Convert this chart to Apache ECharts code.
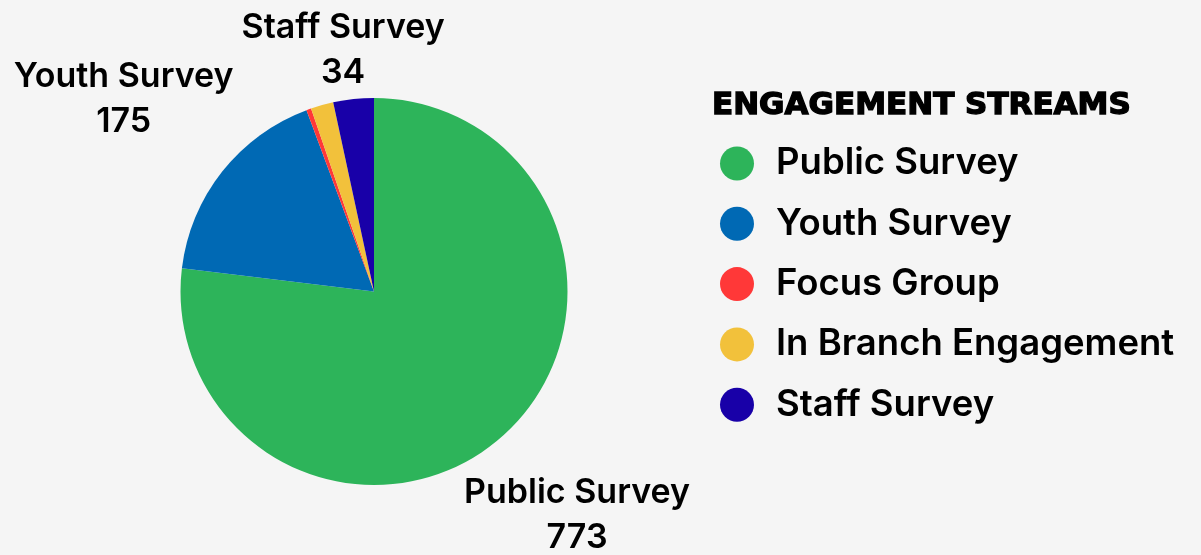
<!DOCTYPE html>
<html><head><meta charset="utf-8">
<script src="https://cdn.jsdelivr.net/npm/echarts@6/dist/echarts.min.js"></script>
<style>html,body{margin:0;padding:0;background:#f5f5f5}#c{width:1201px;height:555px}</style>
</head><body><div id="c"></div>
<script>
const categories = ['Public Survey', 'Youth Survey', 'Focus Group', 'In Branch Engagement', 'Staff Survey'];
const values = [773, 175, 4, 19, 34];
const colors = ['#2DB45A', '#0069B4', '#FF3838', '#F2C13B', '#1800A8'];
const showLabel = [true, true, false, false, true];
const legendTitle = 'ENGAGEMENT STREAMS';

const FONT = 'Inter';
const CX = 374, CY = 291.5, R = 193.5, D = 246, YOFF = 5;
const total = values.reduce((a, b) => a + b, 0);

const chart = echarts.init(document.getElementById('c'), null, {renderer: 'canvas'});
chart.setOption({
  backgroundColor: '#f5f5f5',
  animation: false,
  title: {
    text: legendTitle, left: 712, top: 90, padding: 0,
    textStyle: {fontFamily: 'DejaVu Sans', fontWeight: 'bold', fontSize: 31, color: '#000',
      textBorderColor: '#000', textBorderWidth: 1.4}
  },
  legend: {
    orient: 'vertical', left: 715, top: 140, padding: [5, 5, 5, 5],
    icon: 'circle', itemWidth: 34, itemHeight: 34, itemGap: 23.3,
    data: categories,
    textStyle: {fontFamily: FONT, fontWeight: 600, fontSize: 36.5, lineHeight: 34, color: '#000', padding: [0, 0, 0, 17]}
  },
  series: [{
    type: 'pie',
    center: [CX, CY], radius: R,
    startAngle: 90, clockwise: true,
    avoidLabelOverlap: false,
    data: categories.map((n, i) => ({
      name: n, value: values[i],
      itemStyle: {color: colors[i]},
      label: {show: showLabel[i]}
    })),
    label: {
      position: 'outside',
      formatter: '{b}\n{c}',
      fontFamily: FONT, fontWeight: 600, fontSize: 34, lineHeight: 45,
      color: '#000', align: 'center'
    },
    labelLine: {show: false},
    labelLayout: function (p) {
      const i = p.dataIndex;
      let before = 0;
      for (let k = 0; k < i; k++) before += values[k];
      const mid = (before + values[i] / 2) / total * 2 * Math.PI;
      const dx = Math.sin(mid), dy = -Math.cos(mid);
      const w = p.labelRect.width, h = p.labelRect.height;
      const t = Math.min(Math.abs(dx) > 1e-6 ? (w / 2) / Math.abs(dx) : 1e9,
                         Math.abs(dy) > 1e-6 ? (h / 2) / Math.abs(dy) : 1e9);
      let x = CX + dx * (D + t), y = CY + dy * (D + t);
      x = Math.max(w / 2, Math.min(1201 - w / 2, x));
      y = Math.max(h / 2, Math.min(555 - h / 2, y)) + YOFF;
      return {x: x, y: y, align: 'center', verticalAlign: 'middle'};
    }
  }]
});
</script></body></html>
